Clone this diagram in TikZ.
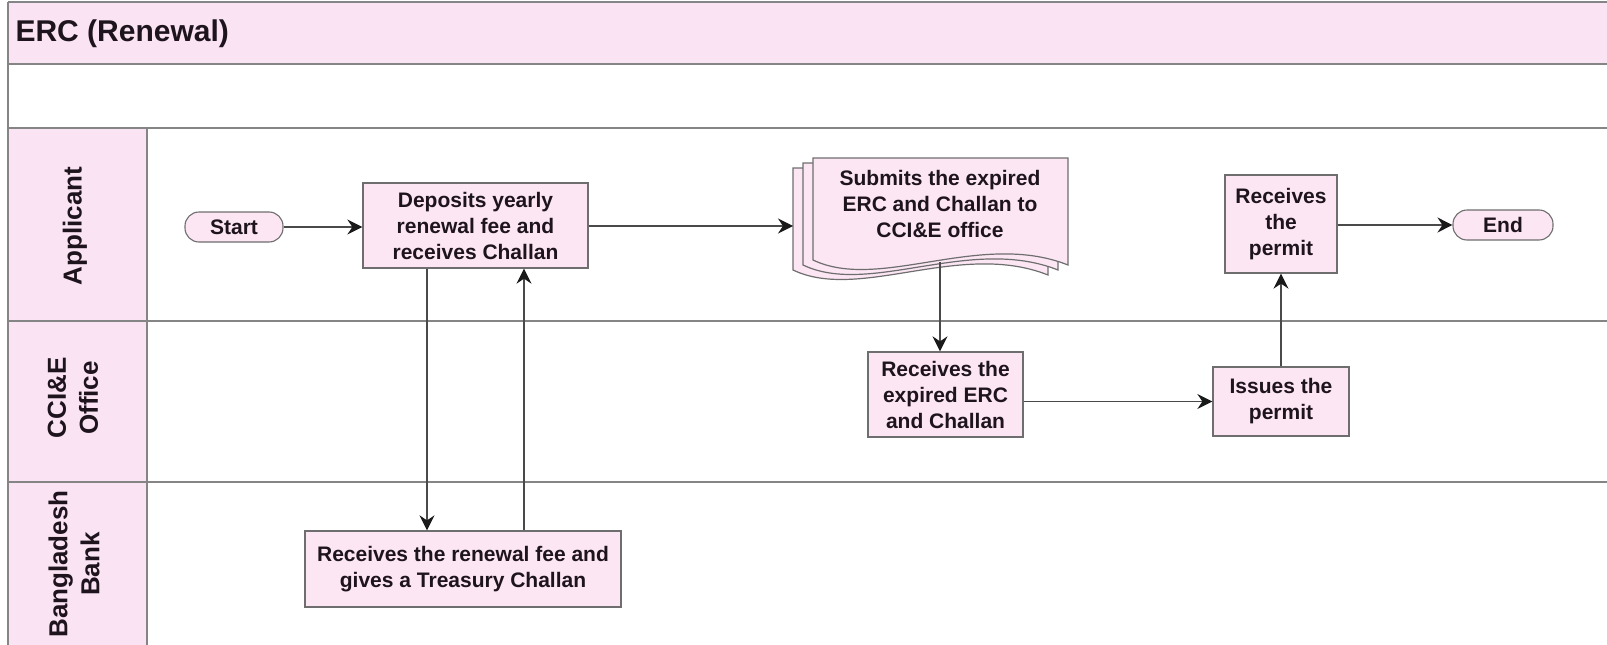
\documentclass[tikz,border=0pt]{standalone}
\usepackage{fontspec}
\setmainfont{Liberation Sans}
\usetikzlibrary{arrows.meta}
\definecolor{lanepink}{HTML}{FAE3F3}
\definecolor{boxpink}{HTML}{FCE6F4}
\definecolor{laneline}{HTML}{858585}
\definecolor{boxline}{HTML}{6E6E6E}
\definecolor{conn}{HTML}{4A4A4A}
\definecolor{tipc}{HTML}{1A1A1A}
\definecolor{ink}{HTML}{1E141E}
\tikzset{
  lanerule/.style={draw=laneline, line width=1.6pt},
  procbox/.style={draw=boxline, fill=boxpink, line width=1.3pt, inner sep=0pt, align=center,
    text=ink, font=\fontsize{21}{26}\selectfont\bfseries},
  termbox/.style={draw=boxline, fill=boxpink, line width=1.1pt, rounded corners=14pt, inner sep=0pt,
    minimum width=98pt, minimum height=30pt, text=ink, font=\fontsize{21}{26}\selectfont\bfseries},
  lanelabel/.style={rotate=90, align=center, text=ink, font=\fontsize{26}{32}\selectfont\bfseries},
  arr/.style={draw=conn, line width=1.3pt, -{Stealth[length=15pt,width=15pt,inset=5pt,color=tipc]}},
  docpage/.style={draw=boxline, fill=boxpink, line width=1.2pt},
}
\begin{document}
\begin{tikzpicture}[x=1pt,y=-1pt]
\useasboundingbox (0,0) rectangle (1607,645);
% swimlane frame
\fill[lanepink] (8,2) rectangle (1607,64);
\fill[lanepink] (8,128) rectangle (147,645);
\draw[lanerule] (8,2) -- (1607,2);
\draw[lanerule] (8,64) -- (1607,64);
\draw[lanerule] (8,128) -- (1607,128);
\draw[lanerule] (8,321) -- (1607,321);
\draw[lanerule] (8,482) -- (1607,482);
\draw[lanerule] (8,2) -- (8,645);
\draw[lanerule] (147,128) -- (147,645);
\node[anchor=west, text=ink, font=\fontsize{30}{36}\selectfont\bfseries] (title) at (12,34) {ERC (Renewal)};
\node[lanelabel] (lapp) at (75,226) {Applicant};
\node[lanelabel] (lcci) at (73,398) {CCI\&E\\Office};
\node[lanelabel] (lbank) at (74,564) {Bangladesh\\Bank};
% document stack
\foreach \k in {2,1,0} {
  \begin{scope}[shift={(-10*\k,5*\k)}]
    \path[docpage] (813,158) -- (1068,158) -- (1068,265)
      .. controls (980,230) and (880,292) .. (813,260) -- cycle;
  \end{scope}
}
\node[align=center, text=ink, font=\fontsize{21}{26}\selectfont\bfseries] (doc) at (940,204)
  {Submits the expired\\ERC and Challan to\\CCI\&E office};
\coordinate (docin) at (793,226);
\coordinate (docbot) at (940,262);
% process boxes
\node[termbox] (start) at (234,227) {Start};
\node[procbox, minimum width=225pt, minimum height=85pt] (dep) at (475.5,225.5)
  {Deposits yearly\\renewal fee and\\receives Challan};
\node[procbox, minimum width=316pt, minimum height=76pt] (bank) at (463,569)
  {Receives the renewal fee and\\gives a Treasury Challan};
\node[procbox, minimum width=155pt, minimum height=85pt] (rec) at (945.5,394.5)
  {Receives the\\expired ERC\\and Challan};
\node[procbox, minimum width=136pt, minimum height=69pt] (iss) at (1281,401.5)
  {Issues the\\permit};
\node[procbox, minimum width=112pt, minimum height=98pt] (perm) at (1281,224)
  {Receives\\the\\permit};
\node[termbox, minimum width=100pt] (end) at (1503,225) {End};
% connectors
\draw[arr] (start.east) -- (start.east -| dep.west);
\draw[arr] (dep.east |- docin) -- (docin);
\draw[arr] (docbot) -- (rec.north -| docbot);
\draw[arr] (rec.east |- iss.west) -- (iss.west);
\draw[arr] (iss.north) -- (perm.south);
\draw[arr] (perm.east |- end.west) -- (end.west);
\draw[arr] (dep.south -| 427,0) -- (bank.north -| 427,0);
\draw[arr] (bank.north -| 524,0) -- (dep.south -| 524,0);
\end{tikzpicture}
\end{document}
